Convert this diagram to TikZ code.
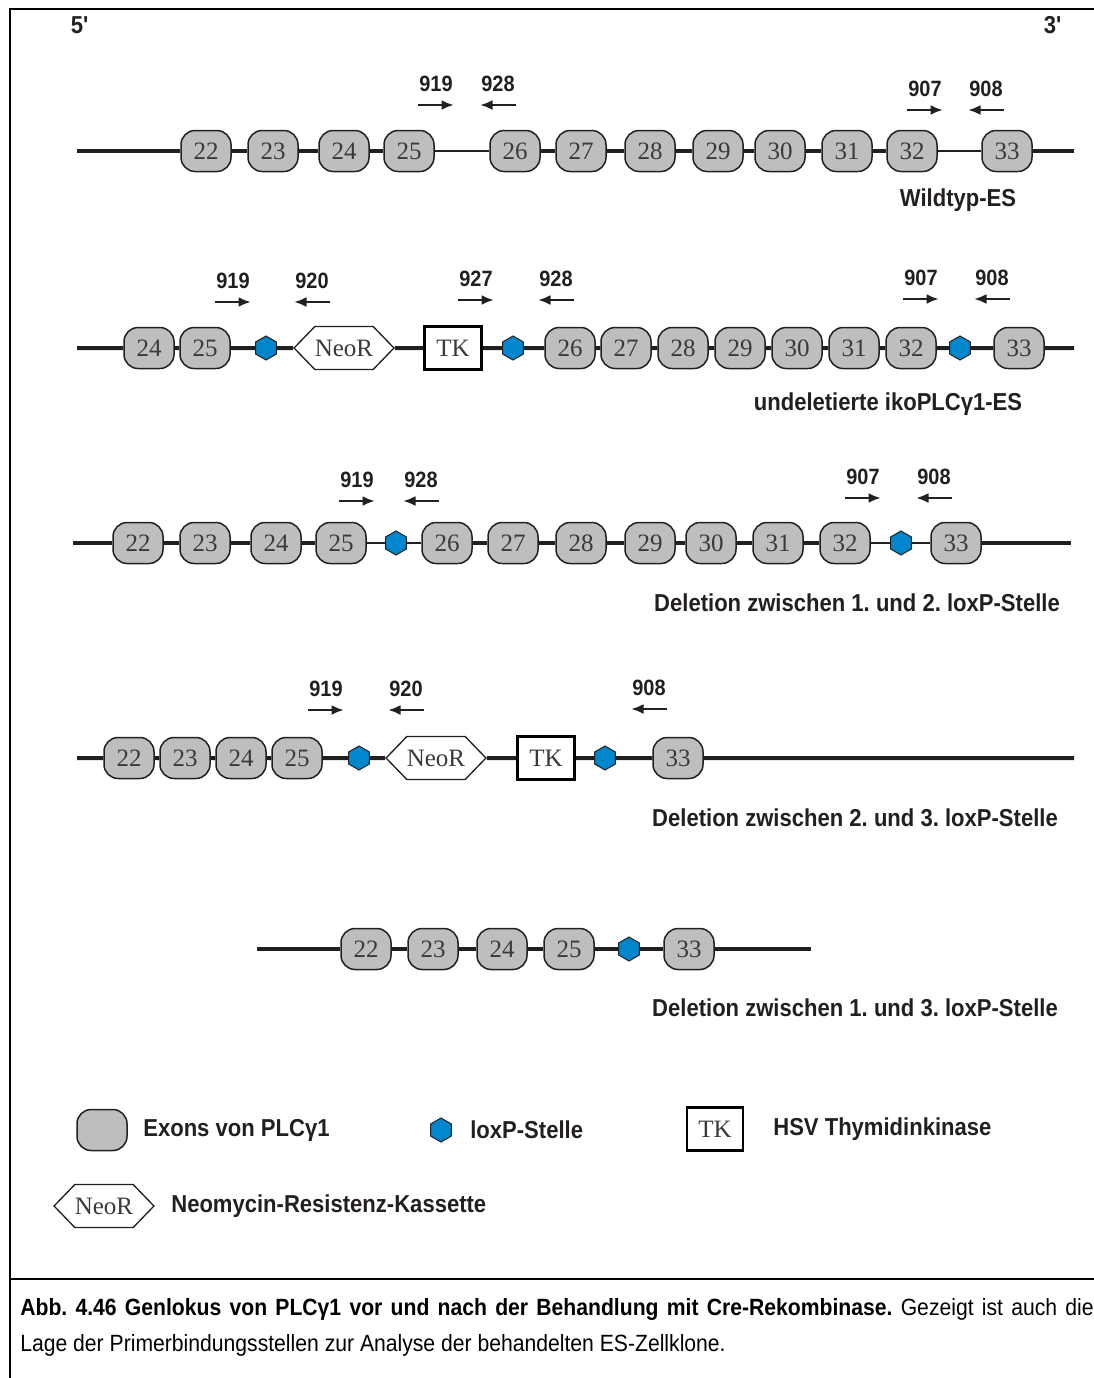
\documentclass[tikz,border=0pt]{standalone}
\usepackage{fontspec}
\setmainfont[FakeStretch=0.9]{Liberation Sans}
\newfontfamily\exonfont{Liberation Serif}
\usetikzlibrary{shapes.geometric,shapes.symbols,arrows.meta}
\frenchspacing

\definecolor{exongray}{RGB}{188,190,192}
\definecolor{loxblue}{RGB}{0,134,204}
\definecolor{inkdark}{RGB}{35,31,32}
\definecolor{numgray}{RGB}{58,58,58}

\tikzset{
  dna/.style={line width=2.4pt, inkdark},
  dnathin/.style={line width=1.5pt, inkdark},
  exon/.style={draw=inkdark, fill=exongray, line width=0.9pt, rounded corners=8.5pt,
    minimum width=30pt, minimum height=24.6pt, inner sep=0pt,
    font=\exonfont\fontsize{15}{15}\selectfont, text=numgray},
  loxp/.style={regular polygon, regular polygon sides=6, shape border rotate=30,
    draw=inkdark, fill=loxblue, line width=0.6pt, minimum size=14.4pt, inner sep=0pt},
  neo/.style={signal, signal to=east and west, signal pointer angle=92,
    draw=inkdark, fill=white, line width=0.8pt, minimum width=51pt,
    minimum height=25.8pt, inner sep=0pt,
    font=\exonfont\fontsize{15}{15}\selectfont, text=numgray},
  tkbox/.style={draw=black, fill=white, line width=1.6pt, minimum width=34pt,
    minimum height=25.8pt, inner sep=0pt,
    font=\exonfont\fontsize{15}{15}\selectfont, text=numgray},
  primer/.style={line width=1.5pt, inkdark, -{Latex[length=7.5pt,width=6pt]}},
  plabel/.style={font=\bfseries\fontsize{13.3}{15}\selectfont, text=inkdark},
  rowlabel/.style={font=\bfseries\fontsize{14.7}{17}\selectfont, text=inkdark},
  legtext/.style={rowlabel, anchor=west, inner sep=0pt},
  boxline/.style={line width=1.2pt, black},
}

\begin{document}
\begin{tikzpicture}[x=0.6pt, y=-0.6pt]
\useasboundingbox (0,0) rectangle (1094,1378);

% frame and caption rule
\draw[boxline] (10,1378) -- (10,9) -- (1094,9);
\draw[boxline] (10,1279) -- (1094,1279);
\node[rowlabel] (five) at (80,25) {5\textquotesingle};
\node[rowlabel] (three) at (1053,25) {3\textquotesingle};

% wild type
\coordinate (wa) at (77,151);
\coordinate (wb) at (1074,151);
\foreach \n/\x in {22/206,23/273,24/344,25/409,26/515,27/581,28/650,29/718,30/780,31/847,32/912,33/1007}
  \node[exon] (w\n) at (\x,151) {\n};
\draw[dna] (wa) -- (w22) -- (w23) -- (w24) -- (w25);
\draw[dnathin] (w25) -- (w26);
\draw[dna] (w26) -- (w27) -- (w28) -- (w29) -- (w30) -- (w31) -- (w32);
\draw[dnathin] (w32) -- (w33);
\draw[dna] (w33) -- (wb);
\node[rowlabel] (wlab) at (958,200) {Wildtyp-ES};

% undeleted allele
\coordinate (ua) at (77,348);
\coordinate (ub) at (1074,348);
\foreach \n/\x in {24/149,25/205,26/570,27/626,28/683,29/740,30/797,31/854,32/911,33/1019}
  \node[exon] (u\n) at (\x,348) {\n};
\node[loxp] (ul1) at (266,348) {};
\node[neo] (uneo) at (344,348) {NeoR};
\node[tkbox] (utk) at (453,348) {TK};
\node[loxp] (ul2) at (513,348) {};
\node[loxp] (ul3) at (960,348) {};
\draw[dna] (ua) -- (u24) -- (u25) -- (ul1) -- (uneo) -- (utk) -- (ul2) -- (u26) -- (u27)
  -- (u28) -- (u29) -- (u30) -- (u31) -- (u32) -- (ul3) -- (u33) -- (ub);
\node[rowlabel] (ulab) at (888,404) {undeletierte ikoPLCγ1-ES};

% deletion 1-2
\coordinate (da) at (73,543);
\coordinate (db) at (1071,543);
\foreach \n/\x in {22/138,23/205,24/276,25/341,26/447,27/513,28/581,29/650,30/711,31/778,32/845,33/956}
  \node[exon] (d\n) at (\x,543) {\n};
\node[loxp] (dl1) at (396,543) {};
\node[loxp] (dl2) at (901,543) {};
\draw[dna] (da) -- (d22) -- (d23) -- (d24) -- (d25);
\draw[dnathin] (d25) -- (dl1) -- (d26);
\draw[dna] (d26) -- (d27) -- (d28) -- (d29) -- (d30) -- (d31) -- (d32);
\draw[dnathin] (d32) -- (dl2) -- (d33);
\draw[dna] (d33) -- (db);
\node[rowlabel] (dlab) at (857,603) {Deletion zwischen 1. und 2. loxP-Stelle};

% deletion 2-3
\coordinate (ma) at (77,758);
\coordinate (mb) at (1074,758);
\foreach \n/\x in {22/129,23/185,24/241,25/297,33/678}
  \node[exon] (m\n) at (\x,758) {\n};
\node[loxp] (ml1) at (359,758) {};
\node[neo] (mneo) at (436,758) {NeoR};
\node[tkbox] (mtk) at (546,758) {TK};
\node[loxp] (ml2) at (605,758) {};
\draw[dna] (ma) -- (m22) -- (m23) -- (m24) -- (m25) -- (ml1) -- (mneo) -- (mtk)
  -- (ml2) -- (m33) -- (mb);
\node[rowlabel] (mlab) at (855,818) {Deletion zwischen 2. und 3. loxP-Stelle};

% deletion 1-3
\coordinate (ka) at (257,949);
\coordinate (kb) at (811,949);
\foreach \n/\x in {22/366,23/433,24/502,25/569,33/689}
  \node[exon] (k\n) at (\x,949) {\n};
\node[loxp] (kl) at (629,949) {};
\draw[dna] (ka) -- (k22) -- (k23) -- (k24) -- (k25) -- (kl) -- (k33) -- (kb);
\node[rowlabel] (klab) at (855,1008) {Deletion zwischen 1. und 3. loxP-Stelle};

% primers: name/label/x/y/direction
\foreach \i/\t/\x/\y/\d in {
    a/919/436/84/1, b/928/498/84/-1, c/907/925/89/1, d/908/986/89/-1,
    e/919/233/281/1, f/920/312/281/-1, g/927/476/279/1, h/928/556/279/-1,
    i/907/921/278/1, j/908/992/278/-1,
    k/919/357/480/1, l/928/421/480/-1, m/907/863/477/1, n/908/934/477/-1,
    o/919/326/689/1, p/920/406/689/-1, q/908/649/688/-1} {
  \node[plabel] (p\i) at (\x,\y) {\t};
  \coordinate (p\i s) at ({\x-18*\d},{\y+21});
  \coordinate (p\i e) at ({\x+18*\d},{\y+21});
  \draw[primer] (p\i s) -- (p\i e);
}

% legend
\node[exon] (lexon) at (102,1130) {};
\node[legtext] (lexont) at (143,1130) {Exons von PLCγ1};
\node[loxp] (llox) at (441,1130) {};
\node[legtext] (lloxt) at (470,1130) {loxP-Stelle};
\node[tkbox, line width=1.3pt] (ltk) at (715,1129) {TK};
\node[legtext] (ltkt) at (773,1129) {HSV Thymidinkinase};
\node[neo, minimum width=52pt] (lneo) at (104,1206) {NeoR};
\node[legtext] (lneot) at (171,1206) {Neomycin-Resistenz-Kassette};

% caption
\node[anchor=west, inner sep=0pt, font=\fontsize{14.1}{17}\selectfont] (cap1) at (20,1309)
  {\makebox[644pt][s]{\textbf{Abb. 4.46 Genlokus von PLCγ1 vor und nach der Behandlung mit Cre-Rekombinase.} Gezeigt ist auch die}};
\node[anchor=west, inner sep=0pt, font=\fontsize{14.1}{17}\selectfont] (cap2) at (20,1345)
  {Lage der Primerbindungsstellen zur Analyse der behandelten ES-Zellklone.};
\end{tikzpicture}
\end{document}
